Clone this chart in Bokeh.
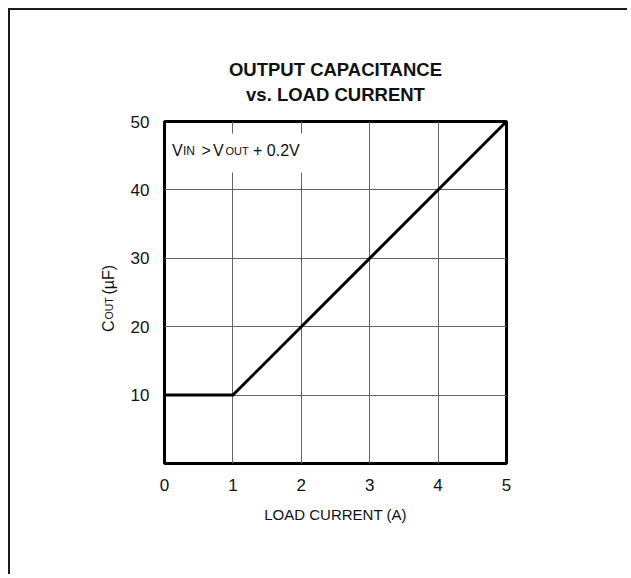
import math
from bokeh.plotting import figure
from bokeh.models import Range1d, FixedTicker, Label, BoxAnnotation
from bokeh.embed import file_html
from bokeh.resources import INLINE

# ---- data ----
load_current = [0, 1, 5]          # A
c_out = [10, 10, 50]              # uF
x_ticks = [0, 1, 2, 3, 4, 5]
y_ticks = [10, 20, 30, 40, 50]
grid_y = [10, 20, 30, 40]
grid_x = [1, 2, 3, 4]
title_lines = ["OUTPUT CAPACITANCE", "vs. LOAD CURRENT"]
x_label = "LOAD CURRENT (A)"

FONT = "Liberation Sans"
X0, X1, Y0, Y1 = 0, 5, 0, 50

# layout (page pixels)
CANVAS_OFF = 10
FRAME_L, FRAME_T, FRAME_W, FRAME_H = 164, 121, 342, 342
W, H = 619, 566
BASE_FIX = 6.5   # Label baseline correction (px)


def dx(px):
    return X0 + (px - FRAME_L) / FRAME_W * (X1 - X0)


def dy(py):
    return Y1 - (py - FRAME_T) / FRAME_H * (Y1 - Y0)


p = figure(width=W, height=H, output_backend="svg", toolbar_location=None,
           x_range=Range1d(X0, X1), y_range=Range1d(Y0, Y1),
           min_border_left=FRAME_L - CANVAS_OFF, min_border_top=FRAME_T - CANVAS_OFF,
           min_border_right=W - (FRAME_L - CANVAS_OFF) - FRAME_W,
           min_border_bottom=H - (FRAME_T - CANVAS_OFF) - FRAME_H)
p.styles = {"margin-left": "10px", "margin-top": "10px",
            "box-shadow": "-2px -2px 0px 0px #1a1a1a"}
p.background_fill_color = "white"
p.border_fill_color = "white"
p.outline_line_color = "black"
p.outline_line_width = 3

# axes
for ax in (p.xaxis[0], p.yaxis[0]):
    ax.axis_line_color = None
    ax.major_tick_in = 0
    ax.major_tick_out = 0
    ax.minor_tick_line_color = None
    ax.major_label_text_font = FONT
    ax.major_label_text_font_size = "17px"
    ax.major_label_text_color = "#111111"
p.xaxis.major_label_standoff = 15
p.yaxis.major_label_standoff = 15
p.xaxis.ticker = FixedTicker(ticks=x_ticks)
p.yaxis.ticker = FixedTicker(ticks=y_ticks)
p.xaxis.axis_label = x_label
p.xaxis.axis_label_text_font = FONT
p.xaxis.axis_label_text_font_style = "normal"
p.xaxis.axis_label_text_font_size = "15px"
p.xaxis.axis_label_text_color = "#111111"
p.xaxis.axis_label_standoff = 12

p.xgrid.ticker = FixedTicker(ticks=grid_x)
p.ygrid.ticker = FixedTicker(ticks=grid_y)
for g in (p.xgrid[0], p.ygrid[0]):
    g.grid_line_color = "#666666"
    g.grid_line_width = 1

# data line
p.line(load_current, c_out, line_color="black", line_width=3, line_join="miter")

# white box behind the condition text
p.add_layout(BoxAnnotation(left=dx(167), right=dx(306), top=dy(133), bottom=dy(172),
                           fill_color="white", fill_alpha=1, line_color=None))


def add_text(text, px, py, size, angle=0.0, align="left", bold=False, place="center"):
    if angle:
        px -= BASE_FIX + 1
    else:
        py -= BASE_FIX
    lab = Label(x=dx(px), y=dy(py), text=text, text_font=FONT,
                text_font_size=size, text_color="#111111",
                text_font_style="bold" if bold else "normal",
                text_align=align, text_baseline="alphabetic", angle=angle)
    p.add_layout(lab, place)


# title (placed in the top side panel so it is not clipped to the frame)
add_text(title_lines[0], 335, 75, "18.5px", align="center", bold=True, place="above")
add_text(title_lines[1], 335, 100, "18.5px", align="center", bold=True, place="above")

# condition text: V_IN > V_OUT + 0.2V
add_text("V", 171.5, 156, "16px")
add_text("IN", 182.5, 157, "12px")
add_text(">", 201, 156, "16px")
add_text("V", 212.5, 156, "16px")
add_text("OUT", 225, 157, "11px")
add_text("+ 0.2V", 252.5, 156, "16px")

# y axis label: C_OUT (uF), rotated (held by the right side panel, drawn at the left)
A = math.pi / 2
add_text("C", 115, 331.5, "16px", angle=A, place="right")
add_text("OUT", 115.5, 319, "10.5px", angle=A, place="right")
add_text("(\u00b5F)", 115, 294, "16px", angle=A, place="right")

open("out.html", "w").write(file_html(p, INLINE))
